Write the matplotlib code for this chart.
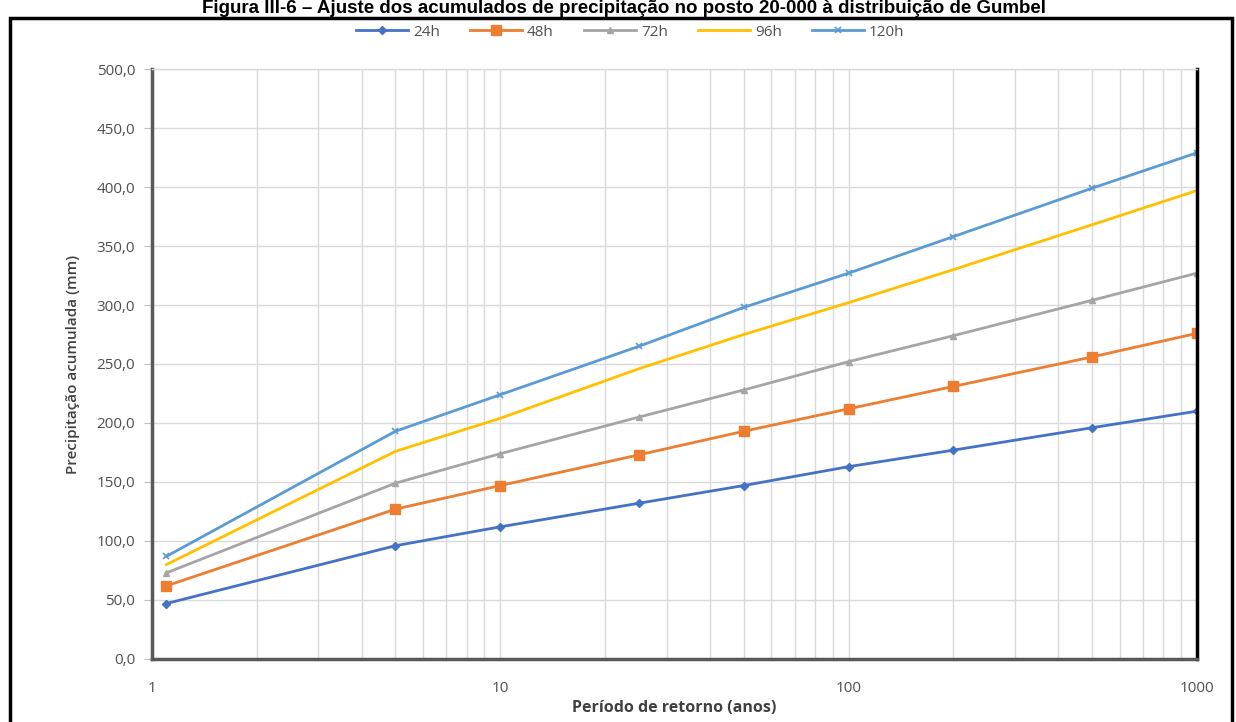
import matplotlib.pyplot as plt
import matplotlib.ticker as mticker
from matplotlib.patches import Rectangle

# -----------------------------------
# DATA
# -----------------------------------

periodos = [1.1, 5, 10, 25, 50, 100, 200, 500, 1000]

p24 = [47, 96, 112, 132, 147, 163, 177, 196, 210]
p48 = [62, 127, 147, 173, 193, 212, 231, 256, 276]
p72 = [73, 149, 174, 205, 228, 252, 274, 304, 327]
p96 = [80, 176, 204, 246, 275, 302, 330, 368, 397]
p120 = [87, 193, 224, 265, 298, 327, 358, 399, 429]

series_labels = ["24h", "48h", "72h", "96h", "120h"]

x_ticks = [1, 10, 100, 1000]
y_ticks = [0, 50, 100, 150, 200, 250, 300, 350, 400, 450, 500]

titulo = ("Figura III-6 – Ajuste dos acumulados de precipitação no posto "
          "20-000 à distribuição de Gumbel")

# -----------------------------------
# FIGURE
# -----------------------------------

plt.rcParams["font.family"] = ["Open Sans", "DejaVu Sans"]

fig = plt.figure(figsize=(12.36, 7.22), dpi=100)
ax = fig.add_axes([0.123, 0.0873, 0.8454, 0.8171])

styles = [
    dict(color="#4472C4", marker="D", markersize=4.5),
    dict(color="#ED7D31", marker="s", markersize=7),
    dict(color="#A5A5A5", marker="^", markersize=5),
    dict(color="#FFC000", marker=None),
    dict(color="#5B9BD5", marker="x", markersize=4, markeredgewidth=1.2),
]

for vals, lab, st in zip([p24, p48, p72, p96, p120], series_labels, styles):
    ax.plot(periodos, vals, label=lab, linewidth=2.0, **st)

# -----------------------------------
# AXES
# -----------------------------------

ax.set_xscale("log")
ax.set_xlim(1, 1000)
ax.set_ylim(0, 500)

ax.set_xticks(x_ticks)
ax.xaxis.set_major_formatter(mticker.FuncFormatter(lambda v, p: f"{v:g}"))
ax.xaxis.set_minor_locator(mticker.LogLocator(base=10, subs=range(2, 10)))
ax.xaxis.set_minor_formatter(mticker.NullFormatter())

ax.set_yticks(y_ticks)
ax.yaxis.set_major_formatter(
    mticker.FuncFormatter(lambda v, p: f"{v:.1f}".replace(".", ","))
)

ax.grid(which="major", color="#d9d9d9", linewidth=1)
ax.grid(which="minor", axis="x", color="#d9d9d9", linewidth=1)
ax.set_axisbelow(True)

ax.tick_params(axis="x", which="both", length=0, labelsize=11,
               labelcolor="#505050", pad=16)
ax.tick_params(axis="y", length=6, color="#bfbfbf", direction="out",
               labelsize=11, labelcolor="#505050", pad=6)

for side in ["left", "bottom"]:
    ax.spines[side].set_color("#595959")
    ax.spines[side].set_linewidth(2.5)
ax.spines["right"].set_color("#000000")
ax.spines["right"].set_linewidth(2.5)
ax.spines["top"].set_color("#d9d9d9")
ax.spines["top"].set_linewidth(1)

ax.set_ylabel("Precipitação acumulada (mm)", fontsize=11,
              fontweight="semibold", color="#404040", labelpad=12)
ax.set_xlabel("Período de retorno (anos)", fontsize=11.5,
              fontweight="bold", color="#404040", labelpad=3)

# -----------------------------------
# LEGEND
# -----------------------------------

fig.legend(loc="center", bbox_to_anchor=(0.51, 1.0 - 32 / 722), ncol=5,
           frameon=False, fontsize=11, labelcolor="#505050",
           handlelength=3.4, columnspacing=2.0, handletextpad=0.3)

# -----------------------------------
# FRAME + TITLE
# -----------------------------------

fig.patches.append(Rectangle((10 / 1236, -0.05), 1222 / 1236, 1.025,
                             transform=fig.transFigure, fill=False,
                             edgecolor="black", linewidth=2.5))

fig.text(0.505, 1.0, titulo, ha="center", va="top",
         fontsize=13.5, fontweight="bold", family="Liberation Sans")

fig.savefig("out.png", dpi=100)
